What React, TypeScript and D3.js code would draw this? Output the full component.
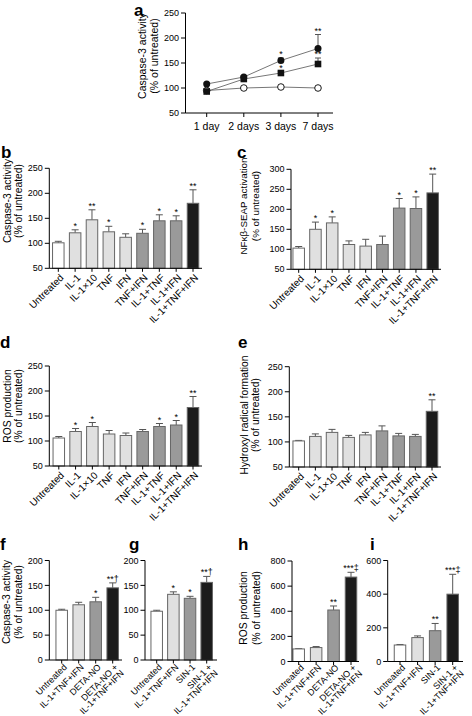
import React from 'react';
import * as d3 from 'd3';

const FONT = "'Liberation Sans', Arial, Helvetica, sans-serif";

// ---------- Panel a ----------
const days = ['1 day', '2 days', '3 days', '7 days'];
const aFilledCircle = [108, 122, 155, 179];
const aFilledCircleErr = [110, 124, 160, 207];
const aFilledCircleSig = ['', '', '*', '**'];
const aSquare = [93, 118, 130, 148];
const aSquareErr = [95, 120, 133, 160];
const aSquareSig = ['', '', '*', '**'];
const aOpen = [95, 100, 102, 100];
const aTicks = [50, 100, 150, 200, 250];

// ---------- Panels b-e ----------
const cats9 = ['Untreated', 'IL-1', 'IL-1×10', 'TNF', 'IFN', 'TNF+IFN', 'IL-1+TNF', 'IL-1+IFN', 'IL-1+TNF+IFN'];
const fills9 = ['w', 'l', 'l', 'l', 'l', 'm', 'm', 'm', 'k'];

const bVals = [101, 121, 147, 123, 112, 120, 145, 145, 180];
const bErrs = [104, 127, 167, 134, 119, 128, 157, 155, 207];
const bSig = ['', '*', '**', '*', '', '*', '*', '*', '**'];
const bTicks = [50, 100, 150, 200, 250];

const cVals = [103, 150, 166, 112, 108, 112, 203, 202, 241];
const cErrs = [107, 168, 181, 121, 125, 133, 227, 231, 288];
const cSig = ['', '*', '*', '', '', '', '*', '*', '**'];
const cTicks = [50, 100, 150, 200, 250, 300];

const dVals = [106, 119, 129, 114, 111, 119, 129, 132, 167];
const dErrs = [109, 125, 137, 121, 116, 123, 135, 141, 189];
const dSig = ['', '*', '*', '', '', '', '*', '*', '**'];
const dTicks = [50, 100, 150, 200, 250];

const eVals = [102, 111, 119, 109, 114, 122, 112, 111, 161];
const eErrs = [103, 116, 125, 113, 119, 132, 117, 115, 184];
const eSig = ['', '', '', '', '', '', '', '', '**'];
const eTicks = [50, 100, 150, 200, 250];

// ---------- Panels f-i ----------
const catsDeta = [['Untreated'], ['IL-1+TNF+IFN'], ['DETA-NO'], ['DETA-NO +', 'IL-1+TNF+IFN']];
const catsSin = [['Untreated'], ['IL-1+TNF+IFN'], ['SIN-1'], ['SIN-1 +', 'IL-1+TNF+IFN']];
const fills4 = ['w', 'l', 'm', 'k'];

const fVals = [100, 111, 117, 145];
const fErrs = [102, 116, 126, 155];
const fSig = ['', '', '*', '**†'];
const fTicks = [0, 50, 100, 150, 200];

const gVals = [98, 132, 124, 156];
const gErrs = [100, 137, 128, 168];
const gSig = ['', '*', '*', '**†'];
const gTicks = [0, 50, 100, 150, 200];

const hVals = [100, 111, 410, 672];
const hErrs = [102, 119, 442, 710];
const hSig = ['', '', '**', '***‡'];
const hTicks = [0, 200, 400, 600, 800];

const iVals = [98, 142, 183, 400];
const iErrs = [101, 152, 226, 518];
const iSig = ['', '', '**', '***‡'];
const iTicks = [0, 200, 400, 600];

const FILL: Record<string, string> = { w: '#ffffff', l: '#e0e0e0', m: '#9a9a9a', k: '#1c1c1c' };

type YAxisProps = { x: number; scale: d3.ScaleLinear<number, number>; ticks: number[] };
function YAxis({ x, scale, ticks }: YAxisProps) {
  return (
    <g>
      <line x1={x} x2={x} y1={scale(ticks[ticks.length - 1])} y2={scale(ticks[0])} stroke="#000" strokeWidth={1} />
      {ticks.map((t) => (
        <g key={t}>
          <line x1={x - 4.5} x2={x} y1={scale(t)} y2={scale(t)} stroke="#000" strokeWidth={1} />
          <text x={x - 6.5} y={scale(t)} dy="0.35em" textAnchor="end" fontSize={9}>
            {t}
          </text>
        </g>
      ))}
    </g>
  );
}

function YLabel({ lines, xs, cy, size = 10.3 }: { lines: string[]; xs: number[]; cy: number; size?: number }) {
  return (
    <g>
      {lines.map((l, i) => (
        <text
          key={i}
          transform={`translate(${xs[i]},${cy}) rotate(-90)`}
          textAnchor="middle"
          dy="0.35em"
          fontSize={size}
        >
          {l}
        </text>
      ))}
    </g>
  );
}

type BarPanelProps = {
  axisX: number;
  axisEnd: number;
  yTop: number;
  yBot: number;
  ticks: number[];
  labels: string[][];
  vals: number[];
  errs: number[];
  sig: string[];
  fills: string[];
  firstC: number;
  lastC: number;
  xFont: number;
  xOff: number;
  ylabel?: string[];
  ylabelXs?: number[];
  ylabelY?: number;
  ylabelSize?: number;
  letter: string;
  letterX: number;
  letterY: number;
};

function BarPanel(p: BarPanelProps) {
  const y = d3.scaleLinear().domain([p.ticks[0], p.ticks[p.ticks.length - 1]]).range([p.yBot, p.yTop]);
  const keys = p.labels.map((l) => l.join(' '));
  const x = d3.scalePoint<string>().domain(keys).range([p.firstC, p.lastC]);
  const bw = 11.5;
  return (
    <g>
      <text x={p.letterX} y={p.letterY} fontSize={17} fontWeight="bold">
        {p.letter}
      </text>
      {p.ylabel && <YLabel lines={p.ylabel} xs={p.ylabelXs!} cy={p.ylabelY!} size={p.ylabelSize} />}
      {keys.map((k, i) => {
        const cx = x(k)!;
        const top = y(p.vals[i]);
        const ey = y(p.errs[i]);
        return (
          <g key={k}>
            <line x1={cx} x2={cx} y1={top} y2={ey} stroke="#555" strokeWidth={1} />
            <line x1={cx - 3.5} x2={cx + 3.5} y1={ey} y2={ey} stroke="#555" strokeWidth={1} />
            <rect x={cx - bw / 2} y={top} width={bw} height={p.yBot - top} fill={FILL[p.fills[i]]} stroke="#666" strokeWidth={1} />
            {p.sig[i] && (
              <text x={cx} y={ey - 1} textAnchor="middle" fontSize={9}>
                {p.sig[i]}
              </text>
            )}
          </g>
        );
      })}
      <YAxis x={p.axisX} scale={y} ticks={p.ticks} />
      <line x1={p.axisX} x2={p.axisEnd} y1={p.yBot} y2={p.yBot} stroke="#000" strokeWidth={1} />
      {keys.map((k, i) => {
        const cx = x(k)!;
        return (
          <g key={'xl' + k}>
            <line x1={cx} x2={cx} y1={p.yBot} y2={p.yBot + 3.5} stroke="#000" strokeWidth={1} />
            <text transform={`translate(${cx + 3.5},${p.yBot + p.xOff}) rotate(-45)`} textAnchor="end" fontSize={p.xFont}>
              {p.labels[i].map((line, j) => (
                <tspan key={j} x={0} dy={j === 0 ? '0.35em' : '0.95em'}>
                  {line}
                </tspan>
              ))}
            </text>
          </g>
        );
      })}
    </g>
  );
}

function PanelA() {
  const axisX = 185.5;
  const y = d3.scaleLinear().domain([50, 250]).range([113, 13]);
  const x = d3.scalePoint<string>().domain(days).range([206.7, 318]);
  const line = d3
    .line<number>()
    .x((_, i) => x(days[i])!)
    .y((v) => y(v));
  return (
    <g>
      <text x={134} y={15.5} fontSize={17} fontWeight="bold">
        a
      </text>
      <YLabel lines={['Caspase-3 activity', '(% of untreated)']} xs={[142.5, 154]} cy={56} size={10.5} />
      {days.map((d, i) => (
        <g key={'e' + d}>
          <line x1={x(d)} x2={x(d)} y1={y(aFilledCircle[i])} y2={y(aFilledCircleErr[i])} stroke="#555" />
          <line x1={x(d)! - 3} x2={x(d)! + 3} y1={y(aFilledCircleErr[i])} y2={y(aFilledCircleErr[i])} stroke="#555" />
          <line x1={x(d)} x2={x(d)} y1={y(aSquare[i])} y2={y(aSquareErr[i])} stroke="#555" />
          <line x1={x(d)! - 3} x2={x(d)! + 3} y1={y(aSquareErr[i])} y2={y(aSquareErr[i])} stroke="#555" />
        </g>
      ))}
      <path d={line(aOpen)!} fill="none" stroke="#777" strokeWidth={1} />
      <path d={line(aSquare)!} fill="none" stroke="#777" strokeWidth={1} />
      <path d={line(aFilledCircle)!} fill="none" stroke="#777" strokeWidth={1} />
      {days.map((d, i) => (
        <g key={'m' + d}>
          <circle cx={x(d)} cy={y(aOpen[i])} r={3.3} fill="#fff" stroke="#000" strokeWidth={0.9} />
          <rect x={x(d)! - 3.3} y={y(aSquare[i]) - 3.3} width={6.6} height={6.6} fill="#111" />
          <circle cx={x(d)} cy={y(aFilledCircle[i])} r={3.5} fill="#111" />
          {aFilledCircleSig[i] && (
            <text x={x(d)} y={y(aFilledCircleErr[i]) - 1} textAnchor="middle" fontSize={9}>
              {aFilledCircleSig[i]}
            </text>
          )}
          {aSquareSig[i] && (
            <text x={x(d)} y={y(aSquareErr[i]) - 1} textAnchor="middle" fontSize={9}>
              {aSquareSig[i]}
            </text>
          )}
        </g>
      ))}
      <YAxis x={axisX} scale={y} ticks={aTicks} />
      <line x1={axisX} x2={333} y1={113} y2={113} stroke="#000" />
      {days.map((d) => (
        <g key={'x' + d}>
          <line x1={x(d)} x2={x(d)} y1={113} y2={117} stroke="#000" />
          <text x={x(d)} y={130} textAnchor="middle" fontSize={10.5}>
            {d}
          </text>
        </g>
      ))}
    </g>
  );
}

export default function App() {
  const lab9 = cats9.map((c) => [c]);
  return (
    <svg width={472} height={716} style={{ position: 'absolute', left: 0, top: 0, background: '#fff' }} fontFamily={FONT}>
      <rect width={472} height={716} fill="#fff" />
      <PanelA />
      <BarPanel
        axisX={49.3} axisEnd={202} yTop={168.3} yBot={268.3} ticks={bTicks}
        labels={lab9} vals={bVals} errs={bErrs} sig={bSig} fills={fills9}
        firstC={58.3} lastC={193} xFont={10} xOff={7.5}
        ylabel={['Caspase-3 activity', '(% of untreated)']} ylabelXs={[7, 18.5]} ylabelY={201}
        letter="b" letterX={1} letterY={158}
      />
      <BarPanel
        axisX={291} axisEnd={441} yTop={169.3} yBot={269.3} ticks={cTicks}
        labels={lab9} vals={cVals} errs={cErrs} sig={cSig} fills={fills9}
        firstC={298.7} lastC={432.7} xFont={10} xOff={7.5}
        ylabel={['NFκβ-SEAP activation', '(% of untreated)']} ylabelXs={[244, 256]} ylabelY={206} ylabelSize={9.8}
        letter="c" letterX={237} letterY={158}
      />
      <BarPanel
        axisX={49.3} axisEnd={202} yTop={366} yBot={466} ticks={dTicks}
        labels={lab9} vals={dVals} errs={dErrs} sig={dSig} fills={fills9}
        firstC={58.8} lastC={193} xFont={10} xOff={7.5}
        ylabel={['ROS production', '(% of untreated)']} ylabelXs={[7, 18.5]} ylabelY={406}
        letter="d" letterX={0} letterY={348}
      />
      <BarPanel
        axisX={289.3} axisEnd={441} yTop={366.7} yBot={467} ticks={eTicks}
        labels={lab9} vals={eVals} errs={eErrs} sig={eSig} fills={fills9}
        firstC={298.7} lastC={432} xFont={10} xOff={7.5}
        ylabel={['Hydroxyl radical formation', '(% of untreated)']} ylabelXs={[244.5, 255.5]} ylabelY={415}
        letter="e" letterX={238} letterY={348}
      />
      <BarPanel
        axisX={49.3} axisEnd={122} yTop={560.5} yBot={660} ticks={fTicks}
        labels={catsDeta} vals={fVals} errs={fErrs} sig={fSig} fills={fills4}
        firstC={61.7} lastC={112.7} xFont={9} xOff={5.5}
        ylabel={['Caspase-3 activity', '(% of untreated)']} ylabelXs={[6, 18]} ylabelY={602}
        letter="f" letterX={0} letterY={550}
      />
      <BarPanel
        axisX={145} axisEnd={217} yTop={560.5} yBot={660} ticks={gTicks}
        labels={catsSin} vals={gVals} errs={gErrs} sig={gSig} fills={fills4}
        firstC={156.7} lastC={206.7} xFont={9} xOff={5.5}
        letter="g" letterX={129} letterY={550}
      />
      <BarPanel
        axisX={292} axisEnd={359} yTop={561} yBot={661.5} ticks={hTicks}
        labels={catsDeta} vals={hVals} errs={hErrs} sig={hSig} fills={fills4}
        firstC={298.7} lastC={351} xFont={9} xOff={4.5}
        ylabel={['ROS production', '(% of untreated)']} ylabelXs={[243, 256]} ylabelY={608}
        letter="h" letterX={238} letterY={550}
      />
      <BarPanel
        axisX={387.7} axisEnd={463} yTop={560.5} yBot={661.5} ticks={iTicks}
        labels={catsSin} vals={iVals} errs={iErrs} sig={iSig} fills={fills4}
        firstC={400} lastC={452.7} xFont={9} xOff={4.5}
        letter="i" letterX={370} letterY={550}
      />
    </svg>
  );
}
